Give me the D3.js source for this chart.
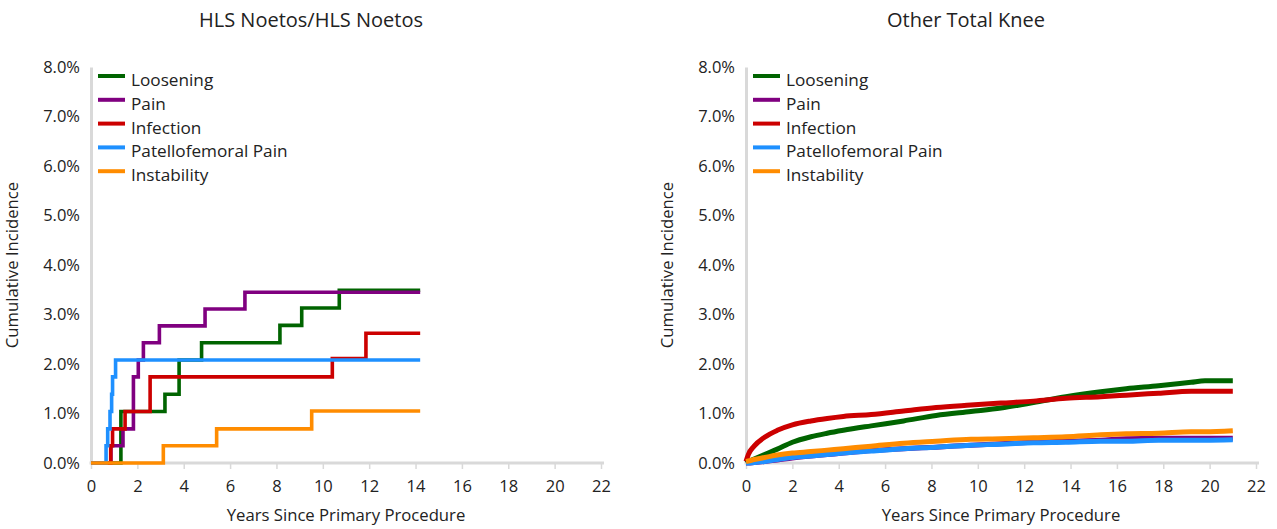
<!DOCTYPE html>
<html>
<head>
<meta charset="utf-8">
<script src="https://cdn.jsdelivr.net/npm/d3@7"></script>
<style>
  html, body { margin: 0; padding: 0; background: #fff; }
  svg text { font-family: "Open Sans", "Noto Sans", sans-serif; fill: #222; }
</style>
</head>
<body>
<svg id="chart" width="1277" height="529"></svg>
<script>
// ---------------- DATA ----------------
const seriesNames = ["Loosening", "Pain", "Infection", "Patellofemoral Pain", "Instability"];
const seriesColors = ["#006400", "#800080", "#CC0000", "#1E90FF", "#FF8C00"];
const xTicks = [0, 2, 4, 6, 8, 10, 12, 14, 16, 18, 20, 22];
const yTicks = [0, 1, 2, 3, 4, 5, 6, 7, 8];
const chartTitles = ["HLS Noetos/HLS Noetos", "Other Total Knee"];

// Left panel (step functions): years and cumulative incidence (%)
const hlsLooseningYears = [0, 1.29, 3.19, 3.80, 4.77, 8.15, 9.09, 10.71, 14.2];
const hlsLooseningVals  = [0, 1.04, 1.39, 2.08, 2.43, 2.78, 3.13, 3.49, 3.49];
const hlsPainYears = [0, 0.86, 1.38, 1.83, 2.04, 2.26, 2.95, 4.92, 6.64, 14.2];
const hlsPainVals  = [0, 0.35, 0.69, 1.74, 2.08, 2.43, 2.77, 3.11, 3.45, 3.45];
const hlsInfectionYears = [0, 0.85, 0.93, 1.47, 2.55, 10.41, 11.86, 14.2];
const hlsInfectionVals  = [0, 0.35, 0.69, 1.04, 1.74, 2.11, 2.62, 2.62];
const hlsPatelloYears = [0, 0.65, 0.72, 0.82, 0.89, 0.93, 1.06, 14.2];
const hlsPatelloVals  = [0, 0.35, 0.69, 1.04, 1.39, 1.74, 2.08, 2.08];
const hlsInstabilityYears = [0, 3.12, 5.42, 9.52, 14.2];
const hlsInstabilityVals  = [0, 0.35, 0.69, 1.05, 1.05];

// Right panel (smooth): common years
const otherYears = [0, 0.1, 0.35, 0.8, 1.35, 2, 2.8, 3.5, 4.2, 5.4, 6.8, 8.2, 9.7, 11, 12.4, 13.8, 15.3, 16.4, 17.8, 19.2, 19.8, 21];
const otherLoosening   = [0, 0.03, 0.08, 0.17, 0.28, 0.42, 0.53, 0.60, 0.66, 0.75, 0.85, 0.96, 1.04, 1.11, 1.22, 1.34, 1.44, 1.50, 1.56, 1.63, 1.66, 1.66];
const otherPain        = [0, 0.00, 0.01, 0.03, 0.06, 0.10, 0.14, 0.17, 0.20, 0.25, 0.29, 0.32, 0.36, 0.39, 0.42, 0.44, 0.46, 0.49, 0.50, 0.50, 0.50, 0.50];
const otherInfection   = [0.03, 0.17, 0.34, 0.52, 0.66, 0.77, 0.85, 0.90, 0.94, 0.98, 1.05, 1.12, 1.17, 1.21, 1.25, 1.31, 1.34, 1.37, 1.41, 1.45, 1.45, 1.45];
const otherPatello     = [0, 0.00, 0.01, 0.03, 0.07, 0.11, 0.14, 0.17, 0.20, 0.24, 0.29, 0.32, 0.36, 0.38, 0.41, 0.42, 0.44, 0.44, 0.46, 0.46, 0.46, 0.47];
const otherInstability = [0.03, 0.04, 0.07, 0.11, 0.16, 0.20, 0.23, 0.26, 0.29, 0.34, 0.40, 0.44, 0.48, 0.49, 0.51, 0.53, 0.57, 0.59, 0.60, 0.63, 0.63, 0.65];

// ---------------- BUILD ----------------
const zip = (xs, ys) => xs.map((x, i) => ({ x: x, y: ys[i] }));
const leftSeries = [
  zip(hlsLooseningYears, hlsLooseningVals),
  zip(hlsPainYears, hlsPainVals),
  zip(hlsInfectionYears, hlsInfectionVals),
  zip(hlsPatelloYears, hlsPatelloVals),
  zip(hlsInstabilityYears, hlsInstabilityVals)
];
const rightSeries = [
  zip(otherYears, otherLoosening),
  zip(otherYears, otherPain),
  zip(otherYears, otherInfection),
  zip(otherYears, otherPatello),
  zip(otherYears, otherInstability)
];

const svg = d3.select("#chart");
const panels = [
  { left: 91, title: chartTitles[0], data: leftSeries, curve: d3.curveStepAfter, width: 3.6, titleX: 311 },
  { left: 746, title: chartTitles[1], data: rightSeries, curve: d3.curveMonotoneX, width: 5, titleX: 966 }
];
const plotW = 510, plotTop = 67, plotBottom = 463;

panels.forEach(p => {
  const g = svg.append("g");
  const x = d3.scaleLinear().domain([0, 22]).range([p.left, p.left + plotW]);
  const y = d3.scaleLinear().domain([0, 8]).range([plotBottom, plotTop]);

  // title
  g.append("text").attr("x", p.titleX).attr("y", 27).attr("text-anchor", "middle")
    .style("font-size", "20px").text(p.title);

  // y axis
  const yAxis = g.append("g").attr("transform", `translate(${p.left},0)`)
    .call(d3.axisLeft(y).tickValues(yTicks).tickSize(0).tickPadding(11)
      .tickFormat(d => d.toFixed(1) + "%"));
  yAxis.select(".domain").attr("stroke", "#d9d9d9").attr("stroke-width", 3);
  yAxis.selectAll("text").style("font-size", "16.5px").attr("fill", "#222");

  // x axis
  const xAxis = g.append("g").attr("transform", `translate(0,${plotBottom})`)
    .call(d3.axisBottom(x).tickValues(xTicks).tickSize(6).tickSizeOuter(0).tickPadding(11));
  xAxis.select(".domain").attr("stroke", "#d9d9d9").attr("stroke-width", 3)
    .attr("d", `M${p.left - 1.5},0H${p.left + plotW + 3}`);
  xAxis.selectAll(".tick line").attr("stroke", "#d9d9d9").attr("stroke-width", 1.5);
  xAxis.selectAll("text").style("font-size", "16.5px").attr("fill", "#222");

  // axis titles
  g.append("text").attr("x", p.left + plotW / 2).attr("y", 521).attr("text-anchor", "middle")
    .style("font-size", "16.7px").text("Years Since Primary Procedure");
  g.append("text").attr("transform", `translate(${p.left - 73},${265}) rotate(-90)`)
    .attr("text-anchor", "middle").style("font-size", "16.7px").text("Cumulative Incidence");

  // lines
  const line = d3.line().x(d => x(d.x)).y(d => y(d.y)).curve(p.curve);
  p.data.forEach((s, i) => {
    g.append("path").datum(s).attr("d", line)
      .attr("fill", "none").attr("stroke", seriesColors[i])
      .attr("stroke-width", p.width).attr("stroke-linejoin", "miter");
  });

  // legend
  const lg = g.append("g").attr("transform", `translate(${p.left + 7},${81})`);
  seriesNames.forEach((n, i) => {
    const row = lg.append("g").attr("transform", `translate(0,${i * 23.8})`);
    row.append("line").attr("x1", 0).attr("x2", 27).attr("y1", -5).attr("y2", -5)
      .attr("stroke", seriesColors[i]).attr("stroke-width", 4);
    row.append("text").attr("x", 33).attr("y", 5).style("font-size", "17.2px").text(n);
  });
});
</script>
</body>
</html>
